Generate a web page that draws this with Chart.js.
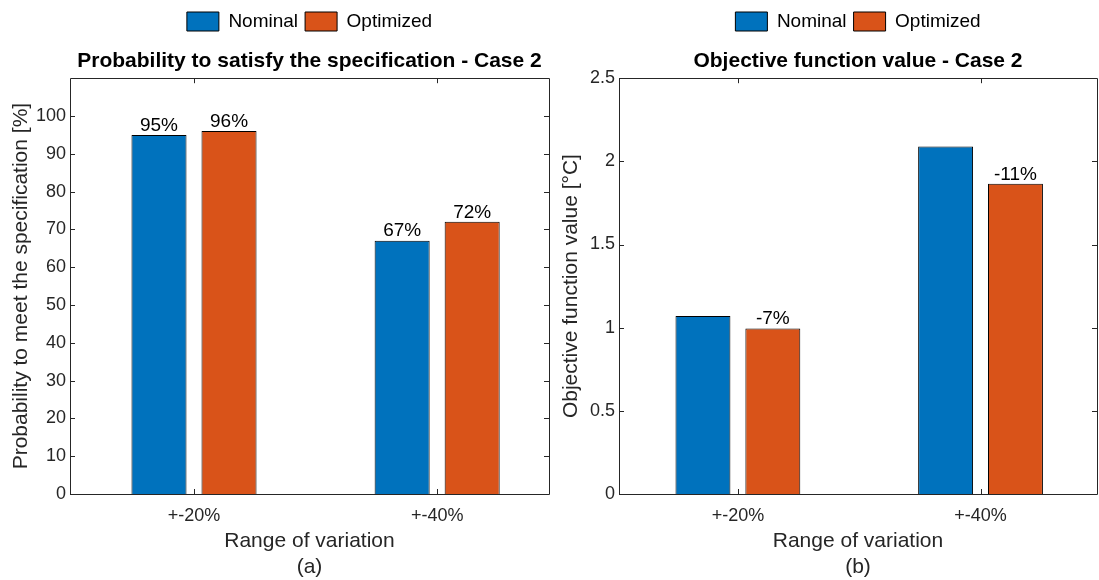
<!DOCTYPE html>
<html lang="en">
<head>
<meta charset="UTF-8">
<title>Case 2</title>
<script src="https://cdn.jsdelivr.net/npm/chart.js"></script>
<style>
  body { margin: 0; background: #fff; }
  #wrap { position: relative; width: 1099px; height: 580px; }
  #left { position: absolute; left: 0; top: 0; }
  #right { position: absolute; left: 560px; top: 0; }
</style>
</head>
<body>
<div id="wrap">
  <canvas id="left" width="560" height="580"></canvas>
  <canvas id="right" width="539" height="580"></canvas>
</div>
<script>
// data
const categories = ['+-20%', '+-40%'];
const categoryPos = [1, 2];
const seriesNames = ['Nominal', 'Optimized'];
const seriesColors = ['#0072BD', '#D95319'];

const probNominal = [95, 67];
const probOptimized = [96, 72];
const probLabelsNominal = ['95%', '67%'];
const probLabelsOptimized = ['96%', '72%'];
const probTicks = [0, 10, 20, 30, 40, 50, 60, 70, 80, 90, 100];

const objNominal = [1.07, 2.09];
const objOptimized = [0.995, 1.865];
const objLabelsNominal = ['', ''];
const objLabelsOptimized = ['-7%', '-11%'];
const objTicks = [0, 0.5, 1, 1.5, 2, 2.5];

const FONT = 'Liberation Sans, Arial, Helvetica, sans-serif';
const AXIS = '#262626';

// box round the axes with inward ticks, like matlab
const boxPlugin = {
  id: 'box',
  afterDatasetsDraw(chart) {
    const {ctx, chartArea: a, scales} = chart;
    ctx.save();
    ctx.strokeStyle = AXIS;
    ctx.lineWidth = 1;
    ctx.beginPath();
    ctx.rect(Math.round(a.left) + 0.5, Math.round(a.top) + 0.5,
             Math.round(a.right - a.left), Math.round(a.bottom - a.top));
    ctx.stroke();
    const len = 5;
    ctx.beginPath();
    scales.y.ticks.forEach(t => {
      const y = Math.round(scales.y.getPixelForValue(t.value)) + 0.5;
      ctx.moveTo(a.left, y); ctx.lineTo(a.left + len, y);
      ctx.moveTo(a.right, y); ctx.lineTo(a.right - len, y);
    });
    scales.x.ticks.forEach(t => {
      const x = Math.round(scales.x.getPixelForValue(t.value)) + 0.5;
      ctx.moveTo(x, a.bottom); ctx.lineTo(x, a.bottom - len);
      ctx.moveTo(x, a.top); ctx.lineTo(x, a.top + len);
    });
    ctx.stroke();
    ctx.restore();
  }
};

// text above the bars
const barLabels = {
  id: 'barLabels',
  afterDatasetsDraw(chart) {
    const {ctx} = chart;
    ctx.save();
    ctx.font = '19px ' + FONT;
    ctx.fillStyle = '#000';
    ctx.textAlign = 'center';
    ctx.textBaseline = 'bottom';
    chart.data.datasets.forEach((ds, di) => {
      chart.getDatasetMeta(di).data.forEach((bar, i) => {
        const txt = ds.valueLabels[i];
        if (txt) ctx.fillText(txt, bar.x, bar.y);
      });
    });
    ctx.restore();
  }
};

function points(vals) {
  return vals.map((v, i) => ({ x: categoryPos[i], y: v }));
}

function makeChart(id, nominal, optimized, labN, labO, ticks, maxY, xMin, xMax, title, yTitle, sub, yWidth, yTitlePad, padRight) {
  return new Chart(document.getElementById(id), {
    type: 'bar',
    data: {
      datasets: [
        { label: seriesNames[0], data: points(nominal), valueLabels: labN,
          backgroundColor: seriesColors[0], borderColor: '#000', borderWidth: 1 },
        { label: seriesNames[1], data: points(optimized), valueLabels: labO,
          backgroundColor: seriesColors[1], borderColor: '#000', borderWidth: 1 }
      ]
    },
    options: {
      responsive: false,
      animation: false,
      categoryPercentage: 0.576,
      barPercentage: 0.786,
      layout: { padding: { top: 5, right: padRight, left: 0, bottom: 0 } },
      plugins: {
        tooltip: { enabled: false },
        legend: {
          fullSize: false, weight: 3000,
          labels: {
            boxWidth: 32, boxHeight: 19, padding: 7, color: '#000',
            font: { family: FONT, size: 19 }
          }
        },
        title: {
          display: true, text: title, fullSize: false, color: '#000',
          font: { family: FONT, size: 21, weight: 'bold' },
          padding: { top: 8, bottom: 4 }
        }
      },
      scales: {
        x: {
          type: 'linear', offset: false, min: xMin, max: xMax,
          grid: { display: false, drawTicks: false }, border: { display: false },
          afterBuildTicks(s) { s.ticks = categoryPos.map(v => ({ value: v })); },
          ticks: { color: AXIS, font: { family: FONT, size: 18 }, padding: 11,
                   callback: v => categories[categoryPos.indexOf(v)] },
          title: { display: true, text: ['Range of variation', sub], color: AXIS,
                   font: { family: FONT, size: 21, lineHeight: 1.24 }, padding: { top: 0, bottom: 0 } },
          afterFit(s) { s.height = 86; }
        },
        y: {
          min: 0, max: maxY,
          grid: { display: false, drawTicks: false }, border: { display: false },
          afterBuildTicks(s) { s.ticks = ticks.map(v => ({ value: v })); },
          ticks: { color: AXIS, font: { family: FONT, size: 18 }, padding: 4,
                   callback: v => String(v) },
          title: { display: true, text: yTitle, color: AXIS,
                   font: { family: FONT, size: 21, lineHeight: 1.1 }, padding: { top: yTitlePad, bottom: 0 } },
          afterFit(s) { s.width = yWidth; }
        }
      }
    },
    plugins: [boxPlugin, barLabels]
  });
}

makeChart('left', probNominal, probOptimized, probLabelsNominal, probLabelsOptimized,
  probTicks, 110, 0.49, 2.46, 'Probability to satisfy the specification - Case 2',
  'Probability to meet the specification [%]', '(a)', 70, 10, 11);

makeChart('right', objNominal, objOptimized, objLabelsNominal, objLabelsOptimized,
  objTicks, 2.5, 0.51, 2.48, 'Objective function value - Case 2',
  'Objective function value [°C]', '(b)', 59, 0, 2);
</script>
</body>
</html>
